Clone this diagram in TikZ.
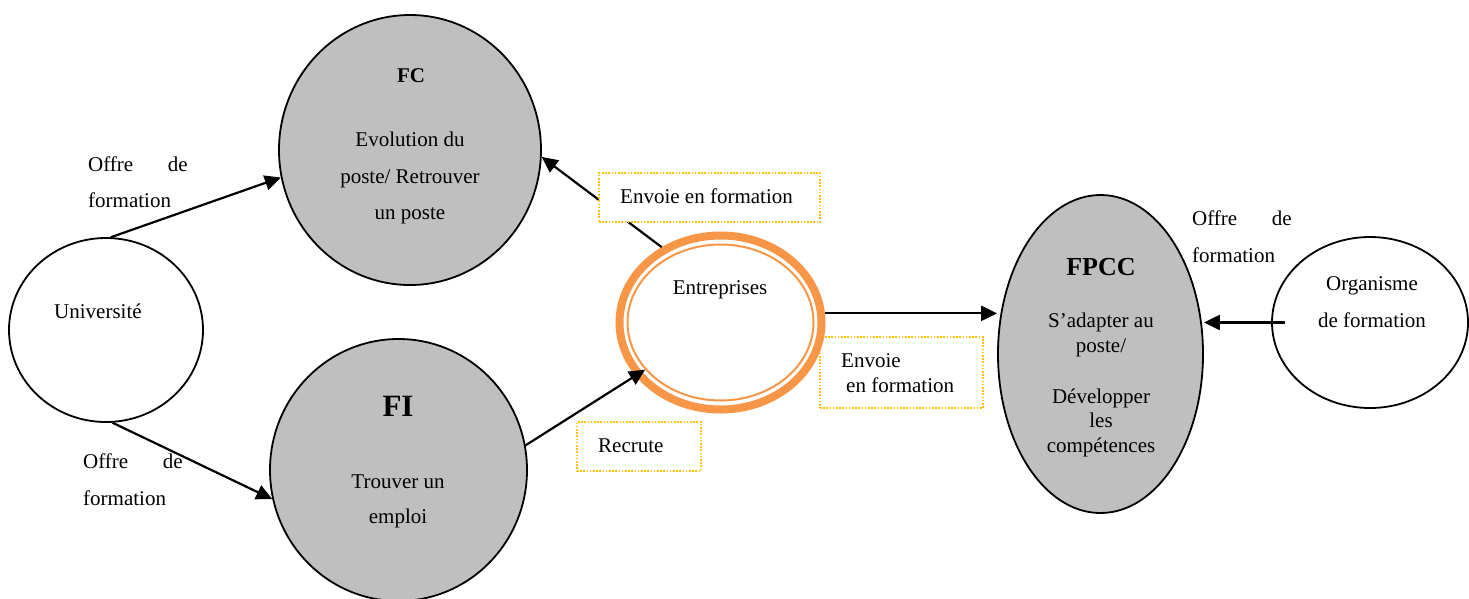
\documentclass[tikz,border=0pt]{standalone}
\usepackage{fontspec}
\setmainfont{Liberation Serif}
\usetikzlibrary{arrows.meta,shapes.geometric}
\definecolor{ggray}{HTML}{BFBFBF}
\definecolor{orng}{HTML}{F79646}
\definecolor{dotc}{HTML}{FFC000}
\begin{document}
\begin{tikzpicture}[x=1pt,y=-1pt,
  txt/.style={inner sep=0pt, anchor=base, font=\fontsize{21}{25}\selectfont},
  txtw/.style={txt, anchor=base west},
  txte/.style={txt, anchor=base east},
  bubble/.style={ellipse, draw=black, line width=1.8pt, inner sep=0pt},
  grey/.style={bubble, fill=ggray},
  arr/.style={line width=2.2pt, -{Triangle[length=16pt,width=15pt]}},
  dotbox/.style={draw=dotc, line width=1.6pt, dash pattern=on 1.6pt off 1.6pt, fill=white, inner sep=0pt}]
\useasboundingbox (0,0) rectangle (1469,598);
\fill[white] (0,0) rectangle (1469,598);

% bubbles
\node[bubble, minimum width=194pt, minimum height=184pt] (univ) at (106,330) {};
\node[grey, minimum width=262pt, minimum height=270pt] (fc) at (410,150) {};
\node[grey, minimum width=257pt, minimum height=262pt] (fi) at (398.5,470) {};
\node[grey, minimum width=205pt, minimum height=318pt] (fpcc) at (1100.5,354) {};
\node[bubble, minimum width=196pt, minimum height=171pt] (org) at (1370,322.5) {};

% boxes below the ring
\node[dotbox, minimum width=163pt, minimum height=71pt] (b2) at (901.5,372.5) {};
\node[dotbox, minimum width=124pt, minimum height=49pt] (b3) at (639,446.5) {};

% entreprises ring
\node[ellipse, draw=orng, fill=white, line width=8pt, minimum width=202pt, minimum height=174pt, inner sep=0pt] (ent) at (720.5,322.5) {};
\node[ellipse, draw=orng, line width=2pt, minimum width=186pt, minimum height=156pt, inner sep=0pt] (entin) at (ent.center) {};

% connectors
\draw[arr] (univ.87.5) -- (fc.192);
\draw[arr] (univ.-86) -- (fi.193);
\draw[arr] (ent.128) -- (fc.-3);
\draw[arr] (fi.11) -- (entin.212);
\draw[arr] (ent.5) -- (ent.5 -| fpcc.west);
\draw[arr] ([xshift=14pt]org.west) -- (org.west -| fpcc.east);

% box covering the line
\node[dotbox, minimum width=221pt, minimum height=49pt] (b1) at (709.5,197.5) {};

% texts
\node[txtw] (o1a) at (88,171) {Offre};
\node[txte] (o1b) at (188,171) {de};
\node[txtw] (o1c) at (88,207) {formation};
\node[txtw] (o2a) at (83,468) {Offre};
\node[txte] (o2b) at (183,468) {de};
\node[txtw] (o2c) at (83,505) {formation};
\node[txtw] (o3a) at (1192,225) {Offre};
\node[txte] (o3b) at (1292,225) {de};
\node[txtw] (o3c) at (1192,262) {formation};

\node[txtw] (tuniv) at (54,318) {Université};

\node[txt, font=\fontsize{21}{25}\selectfont\bfseries] (tfc) at (411,82) {FC};
\node[txt] (tfc1) at (410,146) {Evolution du};
\node[txt] (tfc2) at (410,183) {poste/ Retrouver};
\node[txt] (tfc3) at (410,219) {un poste};

\node[txt, font=\fontsize{31}{36}\selectfont\bfseries] (tfi) at (398,416) {FI};
\node[txt] (tfi1) at (398,488) {Trouver un};
\node[txt] (tfi2) at (398,523) {emploi};

\node[txt] (tent) at (720,294) {Entreprises};

\node[txt, font=\fontsize{26}{30}\selectfont\bfseries] (tfpcc) at (1101,275) {FPCC};
\node[txt] (tfp1) at (1101,327) {S’adapter au};
\node[txt] (tfp2) at (1101,352) {poste/};
\node[txt] (tfp3) at (1101,403) {Développer};
\node[txt] (tfp4) at (1101,427) {les};
\node[txt] (tfp5) at (1101,452) {compétences};

\node[txt] (torg1) at (1372,290) {Organisme};
\node[txt] (torg2) at (1372,327) {de formation};

\node[txtw] (tb1) at (620,203) {Envoie en formation};
\node[txtw] (tb2a) at (841,367) {Envoie};
\node[txtw] (tb2b) at (846,392) {en formation};
\node[txtw] (tb3) at (598,452) {Recrute};
\end{tikzpicture}
\end{document}
